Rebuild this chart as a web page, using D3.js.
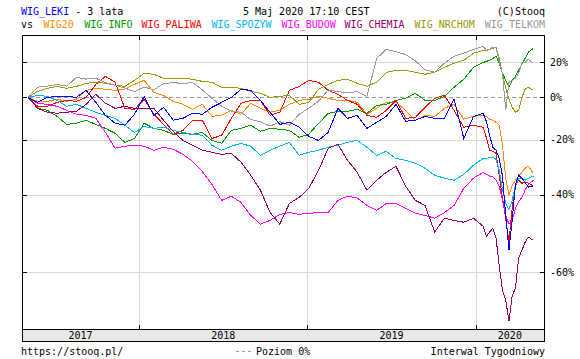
<!DOCTYPE html>
<html>
<head>
<meta charset="utf-8">
<script src="https://cdn.jsdelivr.net/npm/d3@7"></script>
<style>
  body { margin: 0; background: #fff; }
  svg { display: block; }
  text { font-family: "DejaVu Sans Mono", monospace; font-size: 10px; }
</style>
</head>
<body>
<div id="chart"></div>
<script>
// weekly closes, sampled (% change vs first week)
var dates = ["2017-05-05","2017-05-26","2017-06-16","2017-07-07","2017-07-28","2017-08-18",
  "2017-09-08","2017-09-29","2017-10-20","2017-11-10","2017-12-01","2017-12-22",
  "2018-01-12","2018-02-02","2018-02-23","2018-03-16","2018-04-06","2018-04-27",
  "2018-05-18","2018-06-08","2018-06-29","2018-07-20","2018-08-10","2018-08-31",
  "2018-09-21","2018-10-12","2018-11-02","2018-11-23","2018-12-14","2019-01-04",
  "2019-01-25","2019-02-15","2019-03-08","2019-03-29","2019-04-19","2019-05-10",
  "2019-05-31","2019-06-21","2019-07-12","2019-08-02","2019-08-23","2019-09-13",
  "2019-10-04","2019-10-25","2019-11-15","2019-12-06","2019-12-27","2020-01-17",
  "2020-01-24","2020-01-31","2020-02-07","2020-02-14","2020-02-21","2020-02-28",
  "2020-03-06","2020-03-13","2020-03-20","2020-03-27","2020-04-03","2020-04-10",
  "2020-04-17","2020-04-24","2020-05-05"];

var wigLeki = [0,-2.6,0,0.5,0.5,0, 3.7,-2.6,-9,-12.7,-13.6,-8.5, 0.5,-9,-5.1,-11.3,-10.4,-8,
  -8.5,-5.1,-2.6,0,4.3,3.7, -1.6,-7.5,-13.2,-12.3,-14.5,-18.5, -20.2,-16.8,-5.6,-10.4,-9,-15,
  -12.3,-9.5,-3.6,-11.8,-11.3,-9.5, -10.4,-10.4,-1,-19.4,-9.5,-8,
  -11.8,-18,-23,-24.2,-27.4,-33.8,-46.1,-55.1,-47.5,-36.9,-33.5,-34.5,-35.9,-37.5,-37.2];
var wig20 = [0,-2.1,-2.1,-1,-2.1,-1, 3.7,4.8,4.3,3.7,4.3,7, 9.3,2.6,1,-2.1,-3.6,-6.1,
  -3.6,-9.5,-9,-6.6,-8.5,-3.1, -5.6,-7.5,-6.6,-3.6,-1.6,-1, 0.5,-0.5,-1.6,-1.6,-2.6,-8.5,
  -5.6,-2.6,-2.6,-6.6,-11.3,-9, -9.5,-5.6,-3.6,-10.8,-9.5,-9,
  -9.5,-10.8,-11.3,-12.3,-13.6,-22.2,-34.5,-40.1,-36.9,-35.2,-33.8,-32.5,-31,-30.3,-32.8];
var wigInfo = [0,-5.6,-6.6,-9.5,-13.2,-12.7, -11.3,-13.2,-15,-17.2,-21,-19.4, -12.7,-15,-15.9,-17.6,-17.2,-17.6,
  -16.8,-20.2,-21.4,-15.9,-15,-13.6, -16.3,-15,-15.4,-15.9,-18.9,-17.6, -12.7,-8.1,-7.1,-7.1,-6.1,-8.1,
  -4.1,-3.6,-1.6,-0.5,2.1,-1.6, -1.6,0.5,5.4,9.9,17,20,
  20.7,21.4,22.6,24,19.5,13.5,9.3,5.4,9.3,11.6,15.2,18.8,22.6,26.6,29.2];
var wigPaliwa = [0,-4.6,-4.6,-2.6,-1.6,-2.1, 0,7,11.6,8.2,-5.6,-6.1, -1,-8.5,-13.2,-17.6,-15.9,-11.3,
  -11.3,-19.4,-18,-10.4,-3.1,-1.6, -1.6,-9,-7.5,3.7,5.9,9.3, 8.2,3.7,1.6,-1.6,-3.6,-9,
  -10,-6.6,-1.6,-10.4,-10,-5.1, -0.5,1,-6.6,-14.5,-13.6,-14.5,
  -19,-24.2,-24.6,-25.4,-33.5,-41,-47,-53,-44,-37,-35.2,-36.2,-35.9,-36.2,-37.2];
var wigSpozyw = [0,1,0.5,-1.6,-4.6,-3.6, -5.6,-7.5,-9,-10.4,-13.6,-16.8, -14.1,-15,-14.5,-15.9,-16.8,-17.6,
  -18,-22.2,-24.2,-22.6,-21.4,-22.6, -26.2,-24.2,-22.6,-21,-26.2,-25, -24.2,-23,-22.2,-21,-20.2,-23,
  -26.2,-24.6,-27.4,-28.1,-29.2,-31, -33.5,-34.5,-35.2,-33.2,-29.9,-27.4,
  -27.4,-27,-27,-27.7,-31.8,-38.5,-42.6,-44.4,-41.7,-36.9,-34.5,-34.5,-35.2,-34.5,-33.8];
var wigBudow = [0,-3.1,-3.6,-4.6,-6.6,-8.5, -9,-10.4,-16.8,-23.4,-22.6,-22.2, -22.6,-24.2,-23,-23.8,-25.8,-28.5,
  -32.2,-36.6,-41.7,-40.4,-42.3,-46.1, -48.5,-47.5,-45.8,-45.3,-45.8,-45.5, -45.3,-45.3,-41.7,-40.4,-41,-43.2,
  -44.7,-42.6,-42.6,-44.1,-45.5,-46.1, -46.9,-45.3,-43.2,-37.9,-34.5,-32.5,
  -33.1,-33.8,-34.1,-35.2,-37.2,-41.7,-46.1,-48.5,-47.5,-44.1,-42,-40.8,-38.5,-36.6,-35.2];
var wigChemia = [0,-5.6,-7.5,-8,-7.5,-7.1, -3.6,1.6,-3.1,-5.6,-4.6,-5.6, -5.6,-5.6,-11.3,-16.4,-20.2,-22.2,
  -24.2,-25,-25.8,-25.4,-28.8,-33.5, -38.5,-45.3,-48.5,-42.6,-40.8,-37.9, -31.8,-23.4,-21.8,-28.1,-32.5,-38.5,
  -35.2,-32.5,-30.3,-37.2,-41.7,-43.2, -50.6,-46.9,-47.5,-48,-46.9,-49.1,
  -51.7,-50.6,-49.6,-52.1,-58.7,-63.6,-65.4,-69,-64.6,-63.2,-56.9,-55.1,-53.2,-51.9,-52.7];
var wigNrchom = [0,3.2,4.8,5.9,4.8,5.9, 7.6,8.2,7.6,6.5,5.9,9.3, 13.4,12.8,10.5,10.5,10.5,9.9,
  8.7,8.2,5.4,5.4,4.8,3.2, 2.1,0,0.5,1,-3.6,-2.6, 4.3,7,9.3,9.9,7.6,5.9,
  8.2,13.9,15.2,15.2,14,12.8, 14,17,19.5,21.4,25.9,27.9,
  27.9,28.5,29.2,30,22.6,12.8,4.8,-1,-5.1,-7.5,-6.6,0,4.3,5.4,3.7];
var wigTelkom = [0,5.5,6,7,6,11, 10,10.5,8,6.5,5,3, 5.5,4,7.5,8,7.5,8,
  4,-0.5,-4.5,-7,-7.5,-11, -12,-14,-12,-13.5,-8.5,-5.5, -2,4,3,2.5,3,0.5,
  22.5,28.5,27,25,21,15.5, 14,19.5,24,26,28.5,30.5,
  28,28.5,30,29.9,20.2,13.4,-6.6,8.2,9.3,10.5,13.4,19.5,20,22,19.5];

var yTicks = [20, 0, -20, -40, -60];
var years = ["2017", "2018", "2019", "2020"];
var yearStarts = ["2018-01-01", "2019-01-01", "2020-01-01"];

var compare = [
  {name: "WIG20", values: wig20, color: "#ff8c00"},
  {name: "WIG_INFO", values: wigInfo, color: "#009900"},
  {name: "WIG_PALIWA", values: wigPaliwa, color: "#ff0000"},
  {name: "WIG_SPOZYW", values: wigSpozyw, color: "#00b4f0"},
  {name: "WIG_BUDOW", values: wigBudow, color: "#ff00ff"},
  {name: "WIG_CHEMIA", values: wigChemia, color: "#990066"},
  {name: "WIG_NRCHOM", values: wigNrchom, color: "#999900"},
  {name: "WIG_TELKOM", values: wigTelkom, color: "#999999"}
];
var main = {name: "WIG_LEKI", values: wigLeki, color: "#0000ff"};

(function(){
  var W = 580, H = 359;
  var padL = 22, padR = 544, padT = 35, padB = 329, band = 341;
  var parse = d3.timeParse("%Y-%m-%d");

  var x = d3.scaleTime()
    .domain([parse("2017-04-22"), parse("2020-05-28")])
    .range([padL, padR]);
  var y = d3.scaleLog()
    .domain([0.2974, 1.3857])
    .range([padB, padT]);
  var yp = function(p){ return y(1 + p / 100); };
  var px = function(v){ return Math.round(v) + 0.5; };

  var svg = d3.select("#chart").append("svg")
    .attr("width", W).attr("height", H);

  svg.append("rect").attr("width", W).attr("height", H).attr("fill", "#fff");

  // grid
  var grid = svg.append("g").attr("stroke", "#d8d8d8").attr("stroke-width", 1);
  grid.selectAll(".vg").data(yearStarts).enter().append("line")
    .attr("x1", function(d){ return px(x(parse(d))); })
    .attr("x2", function(d){ return px(x(parse(d))); })
    .attr("y1", padT).attr("y2", padB);
  grid.selectAll(".hg").data(yTicks.filter(function(d){ return d !== 0; })).enter().append("line")
    .attr("x1", padL).attr("x2", padR)
    .attr("y1", function(d){ return px(yp(d)); })
    .attr("y2", function(d){ return px(yp(d)); });

  svg.append("line")
    .attr("x1", padL).attr("x2", padR)
    .attr("y1", px(yp(0))).attr("y2", px(yp(0)))
    .attr("stroke", "#999").attr("stroke-dasharray", "4,3");

  // series
  var line = d3.line()
    .x(function(d, i){ return x(parse(dates[i])); })
    .y(function(d){ return yp(d); });

  var lines = svg.append("g").attr("fill", "none")
    .attr("stroke-width", 1).attr("shape-rendering", "crispEdges");
  compare.concat([main]).forEach(function(s){
    lines.append("path")
      .attr("d", line(s.values))
      .attr("stroke", s.color);
  });

  // bottom band + frame
  svg.append("rect")
    .attr("x", padL + 0.5).attr("y", padB + 0.5)
    .attr("width", padR - padL).attr("height", band - padB)
    .attr("fill", "#e8e8e8");
  var frame = svg.append("g").attr("stroke", "#000").attr("stroke-width", 1).attr("fill", "none");
  frame.append("rect")
    .attr("x", padL + 0.5).attr("y", padT + 0.5)
    .attr("width", padR - padL).attr("height", band - padT);
  frame.append("line").attr("x1", padL).attr("x2", padR + 1)
    .attr("y1", padB + 0.5).attr("y2", padB + 0.5);

  // ticks
  yearStarts.forEach(function(d){
    var xx = px(x(parse(d)));
    frame.append("line").attr("x1", xx).attr("x2", xx).attr("y1", padT).attr("y2", padT + 5);
    frame.append("line").attr("x1", xx).attr("x2", xx).attr("y1", padB - 4).attr("y2", padB);
  });
  yTicks.forEach(function(t){
    var yy = px(yp(t));
    frame.append("line").attr("x1", padL).attr("x2", padL + 5).attr("y1", yy).attr("y2", yy);
    frame.append("line").attr("x1", padR - 4).attr("x2", padR + 1).attr("y1", yy).attr("y2", yy);
  });

  svg.selectAll(".ylab").data(yTicks).enter().append("text")
    .attr("x", padR + 6)
    .attr("y", function(d){ return yp(d) + 3.5; })
    .text(function(d){ return d + "%"; });

  // year labels centred in their span
  var bounds = [padL].concat(yearStarts.map(function(d){ return x(parse(d)); }), [padR]);
  svg.selectAll(".year").data(years).enter().append("text")
    .attr("x", function(d, i){ return (bounds[i] + bounds[i + 1]) / 2; })
    .attr("y", band - 2.5)
    .attr("text-anchor", "middle")
    .text(function(d){ return d; });

  // header
  var t1 = svg.append("text").attr("x", 21).attr("y", 15);
  t1.append("tspan").attr("fill", main.color).text(main.name);
  t1.append("tspan").attr("fill", "#000").text(" - 3 lata");
  svg.append("text").attr("x", 243).attr("y", 15).text("5 Maj 2020 17:10 CEST");
  svg.append("text").attr("x", padR + 1).attr("y", 15).attr("text-anchor", "end").text("(C)Stooq");

  var legX = [43.6, 84.3, 141.5, 211.4, 281.6, 344.4, 414.6, 484.8];
  svg.append("text").attr("x", 21).attr("y", 28).text("vs");
  svg.selectAll(".leg").data(compare).enter().append("text")
    .attr("x", function(d, i){ return legX[i]; })
    .attr("y", 28)
    .attr("fill", function(d){ return d.color; })
    .text(function(d){ return d.name; });

  // footer
  svg.append("text").attr("x", 21).attr("y", 355).text("https://stooq.pl/");
  svg.append("line").attr("x1", 236).attr("x2", 254).attr("y1", 351.5).attr("y2", 351.5)
    .attr("stroke", "#999").attr("stroke-dasharray", "3,3");
  svg.append("text").attr("x", 256).attr("y", 355).text("Poziom 0%");
  svg.append("text").attr("x", padR + 1).attr("y", 355).attr("text-anchor", "end").text("Interwal Tygodniowy");
})();
</script>
</body>
</html>
